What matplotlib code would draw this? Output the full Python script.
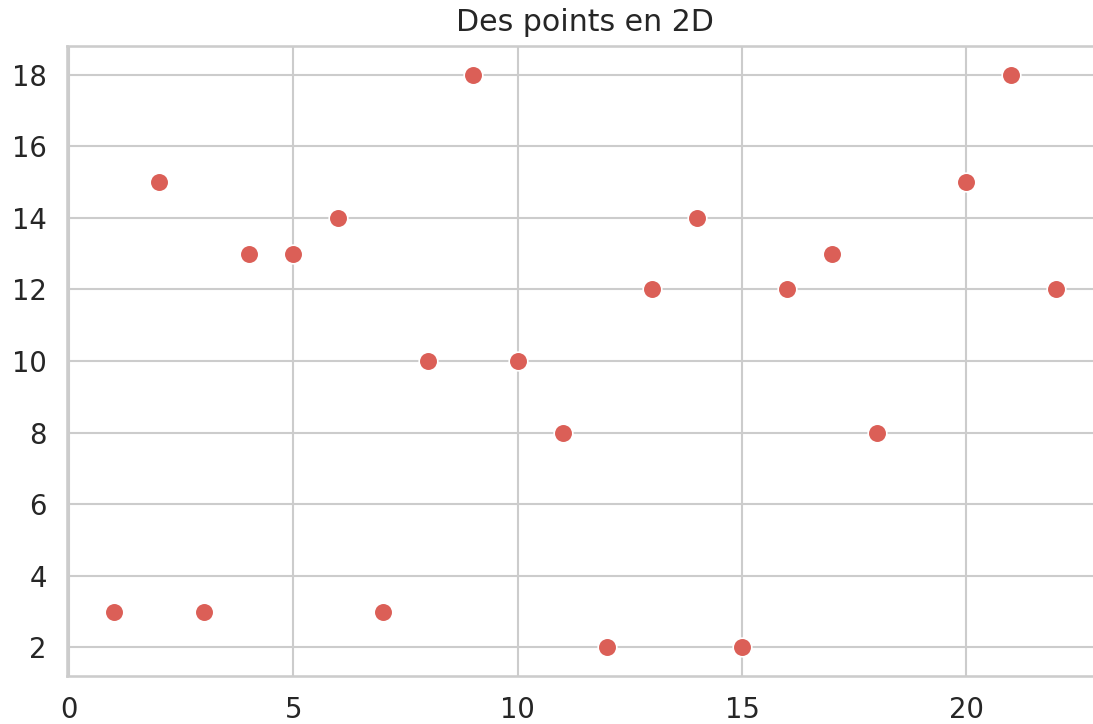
import numpy as np
import matplotlib
matplotlib.use("Agg")
import matplotlib.pyplot as plt
import seaborn as sns

x = [1, 2, 3, 4, 5, 6, 7, 8, 9, 10, 11, 12, 13, 14, 15, 16, 17, 18, 20, 21, 22]
y = [3, 15, 3, 13, 13, 14, 3, 10, 18, 10, 8, 2, 12, 14, 2, 12, 13, 8, 15, 18, 12]

sns.set_theme(style="whitegrid", context="talk", font_scale=1.2)
plt.rcParams['font.family'] = ['DejaVu Sans']

fig = plt.figure(figsize=(10.93, 7.24), dpi=100)
ax = fig.add_axes([67 / 1093, 48 / 724, 1036 / 1093, 630 / 724])

color = sns.color_palette("hls")[0]
ax.scatter(x, y, s=180, color=color, edgecolor="white", linewidth=1.2, zorder=3)
ax.set_title("Des points en 2D", pad=10.5)
ax.tick_params(axis="x", pad=plt.rcParams["xtick.major.pad"] + 1.8)
ax.tick_params(axis="y", pad=plt.rcParams["ytick.major.pad"] + 2)

fig.savefig("out.png", dpi=100)
